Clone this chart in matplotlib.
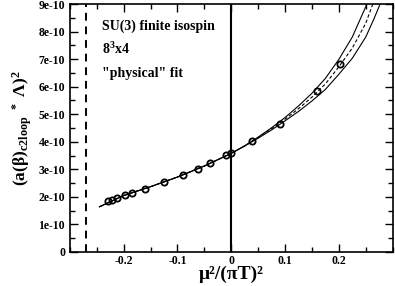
import matplotlib
matplotlib.use('Agg')
import matplotlib.pyplot as plt
from matplotlib.ticker import MultipleLocator, FixedLocator

plt.rcParams['font.family'] = 'Liberation Serif'
plt.rcParams['font.weight'] = 'bold'
plt.rcParams['mathtext.fontset'] = 'custom'
plt.rcParams['mathtext.rm'] = 'Liberation Serif:bold'
plt.rcParams['mathtext.it'] = 'Liberation Serif:bold'
plt.rcParams['mathtext.bf'] = 'Liberation Serif:bold'

# measured points, x = mu^2/(pi T)^2, y in units of 1e-10
mu2 = [-0.230, -0.221, -0.212, -0.198, -0.184, -0.161, -0.125, -0.089,
       -0.062, -0.039, -0.009, 0.0, 0.039, 0.091, 0.160, 0.203]
beta_sq = [1.85, 1.88, 1.97, 2.07, 2.15, 2.30, 2.54, 2.80,
           3.02, 3.22, 3.52, 3.58, 4.04, 4.64, 5.85, 6.82]

# fit curve (central, upper and lower edge of band)
fit_x = [-0.245, -0.2, -0.15, -0.1, -0.05, 0.0, 0.025, 0.05, 0.075, 0.1,
         0.125, 0.15, 0.175, 0.2, 0.225, 0.25, 0.265, 0.28, 0.3]
fit_mid = [1.64, 2.05, 2.37, 2.72, 3.12, 3.58, 3.85, 4.15, 4.47, 4.82,
           5.2, 5.62, 6.1, 6.72, 7.4, 8.3, 9.1, 9.9, 11.2]
fit_hi = [1.64, 2.05, 2.37, 2.72, 3.12, 3.58, 3.855, 4.17, 4.51, 4.88,
          5.3, 5.76, 6.3, 6.99, 7.8, 8.9, 9.8, 10.7, 12.2]
fit_lo = [1.64, 2.05, 2.37, 2.72, 3.12, 3.58, 3.845, 4.13, 4.43, 4.76,
          5.1, 5.48, 5.9, 6.45, 7.03, 7.8, 8.45, 9.15, 10.3]

yticks = [0, 1, 2, 3, 4, 5, 6, 7, 8, 9]
ylabels = ['0'] + ['%de-10' % v for v in yticks[1:]]
xticks = [-0.2, -0.1, 0.0, 0.1, 0.2]
xlabels = ['-0.2', '-0.1', '0', '0.1', '0.2']

fig = plt.figure(figsize=(3.95, 2.86), dpi=100)
ax = fig.add_axes([0.177, 0.119, 0.817, 0.867])

ax.plot(fit_x, fit_hi, color='black', lw=0.8)
ax.plot(fit_x, fit_lo, color='black', lw=0.8)
ax.plot(fit_x, fit_mid, color='black', lw=0.8, ls=(0, (3, 2)))
ax.plot(mu2, beta_sq, ls='none', marker='o', ms=4.5, mfc='none', mec='black', mew=1.3)

ax.axvline(0.0, color='black', lw=1.5)
ax.axvline(-0.27, color='black', lw=1.4, ls=(0, (4, 3)))

ax.set_xlim(-0.3, 0.3)
ax.set_ylim(0, 9)
ax.xaxis.set_major_locator(FixedLocator(xticks))
ax.set_xticklabels(xlabels)
ax.xaxis.set_minor_locator(MultipleLocator(0.05))
ax.set_yticks(yticks)
ax.set_yticklabels(ylabels)
ax.yaxis.set_minor_locator(MultipleLocator(0.5))
ax.tick_params(which='both', direction='in', top=True, right=True, labelsize=8.5, width=1)
ax.tick_params(axis='x', pad=2)
ax.tick_params(which='major', length=6)
ax.tick_params(which='minor', length=3.5)
for s in ax.spines.values():
    s.set_linewidth(1.2)

fig.text(0.585, 0.04, 'μ²/(πT)²', fontsize=14, ha='center', va='center')
ax.set_ylabel(r'$(a(\beta)_{c2loop}\ {}^*\ \Lambda)^2$', fontsize=12.5, labelpad=3)

ax.text(-0.24, 8.05, 'SU(3) finite isospin', fontsize=10)
ax.text(-0.24, 7.2, r'8$^3$x4', fontsize=10)
ax.text(-0.24, 6.35, '"physical" fit', fontsize=10)

fig.savefig('out.png', dpi=100)
